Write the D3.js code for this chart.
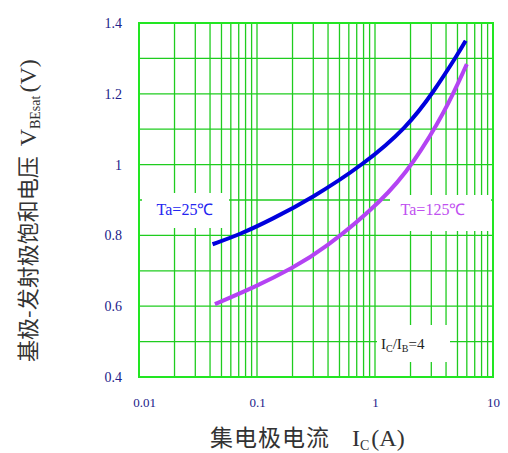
<!DOCTYPE html>
<html>
<head>
<meta charset="utf-8">
<script src="https://cdn.jsdelivr.net/npm/d3@7"></script>
<style>
  body { margin: 0; background: #fff; }
  svg { display: block; }
</style>
</head>
<body>
<div id="chart"></div>
<script>
// readings: [Ic (A), VBEsat (V)]
var curve25 = [[0.042,0.775],[0.072,0.803],[0.133,0.845],[0.29,0.905],
               [0.8,1.0],[1.86,1.105],[3.12,1.204],[5.08,1.314],[5.87,1.35]];
var curve125 = [[0.044,0.606],[0.1,0.657],[0.197,0.707],[0.365,0.759],
                [1.18,0.9],[2.11,1.003],[3.92,1.149],[6.0,1.284]];
var xTicks = [0.01, 0.1, 1, 10];
var xTickLabels = ['0.01', '0.1', '1', '10'];
var yTicks = [0.4, 0.6, 0.8, 1, 1.2, 1.4];
var yTickLabels = ['0.4', '0.6', '0.8', '1', '1.2', '1.4'];

var width = 508, height = 453;
var plotLeft = 139, plotRight = 493, plotTop = 23, plotBottom = 377;

var x = d3.scaleLog().domain([0.01, 10]).range([plotLeft, plotRight]);
var y = d3.scaleLinear().domain([0.4, 1.4]).range([plotBottom, plotTop]);

var svg = d3.select('#chart').append('svg')
  .attr('width', width)
  .attr('height', height);

// grid
var xMinor = [];
[0.01, 0.1, 1].forEach(function(dec) {
  for (var k = 1; k < 10; k++) xMinor.push(dec * k);
});
xMinor.push(10);
var yLines = d3.range(0, 11).map(function(i) { return 0.4 + i * 0.1; });

var grid = svg.append('g').attr('stroke', '#1fcc1f').attr('stroke-width', 1.3);
grid.selectAll('.vline').data(xMinor).enter().append('line')
  .attr('x1', function(d) { return x(d); })
  .attr('x2', function(d) { return x(d); })
  .attr('y1', plotTop).attr('y2', plotBottom);
grid.selectAll('.hline').data(yLines).enter().append('line')
  .attr('x1', plotLeft).attr('x2', plotRight)
  .attr('y1', function(d) { return y(d); })
  .attr('y2', function(d) { return y(d); });

// white boxes behind the labels
var boxes = [
  { x: 142, y: 193, w: 87, h: 35 },
  { x: 390, y: 195, w: 101, h: 36 },
  { x: 377, y: 325, w: 73, h: 37 }
];
svg.append('g').selectAll('rect').data(boxes).enter().append('rect')
  .attr('x', function(d) { return d.x; })
  .attr('y', function(d) { return d.y; })
  .attr('width', function(d) { return d.w; })
  .attr('height', function(d) { return d.h; })
  .attr('fill', '#fff');

// frame
svg.append('rect')
  .attr('x', plotLeft).attr('y', plotTop)
  .attr('width', plotRight - plotLeft).attr('height', plotBottom - plotTop)
  .attr('fill', 'none')
  .attr('stroke', '#22e622')
  .attr('stroke-width', 2);

// axes (tick labels only)
var serif = "'Liberation Serif', 'Times New Roman', serif";
var xAxis = svg.append('g')
  .attr('transform', 'translate(0,' + (plotBottom + 18) + ')')
  .call(d3.axisBottom(x).tickValues(xTicks).tickSize(0)
    .tickFormat(function(d, i) { return xTickLabels[i]; }));
xAxis.select('.domain').remove();
xAxis.selectAll('text')
  .style('font-family', serif)
  .style('font-size', '13px')
  .attr('fill', '#22228a');
xAxis.selectAll('.tick').filter(function(d) { return d === 0.01; })
  .select('text').attr('dx', 5);

var yAxis = svg.append('g')
  .attr('transform', 'translate(' + (plotLeft - 14) + ',0)')
  .call(d3.axisLeft(y).tickValues(yTicks).tickSize(0)
    .tickFormat(function(d, i) { return yTickLabels[i]; }));
yAxis.select('.domain').remove();
yAxis.selectAll('text')
  .style('font-family', serif)
  .style('font-size', '14px')
  .attr('fill', '#22228a');

// curves
var line = d3.line()
  .x(function(d) { return x(d[0]); })
  .y(function(d) { return y(d[1]); })
  .curve(d3.curveBasis);

svg.append('path').datum(curve125)
  .attr('d', line)
  .attr('fill', 'none')
  .attr('stroke', '#b443f3')
  .attr('stroke-width', 4);
svg.append('path').datum(curve25)
  .attr('d', line)
  .attr('fill', 'none')
  .attr('stroke', '#0000dd')
  .attr('stroke-width', 4);

// labels
svg.append('text')
  .attr('x', 185).attr('y', 215)
  .attr('text-anchor', 'middle')
  .style('font-family', serif).style('font-size', '16px')
  .attr('fill', '#2525f0')
  .text('Ta=25\u2103');
svg.append('text')
  .attr('x', 433).attr('y', 215)
  .attr('text-anchor', 'middle')
  .style('font-family', serif).style('font-size', '16px')
  .attr('fill', '#c050f0')
  .text('Ta=125\u2103');

var ratio = svg.append('text')
  .attr('x', 381).attr('y', 349)
  .style('font-family', serif).style('font-size', '15px')
  .attr('fill', '#222');
ratio.append('tspan').text('I');
ratio.append('tspan').style('font-size', '10px').attr('dy', 3).text('C');
ratio.append('tspan').attr('dy', -3).text('/I');
ratio.append('tspan').style('font-size', '10px').attr('dy', 3).text('B');
ratio.append('tspan').attr('dy', -3).text('=4');

// axis titles
var cjk = "'Noto Sans CJK SC', sans-serif";
var xTitle = svg.append('text')
  .attr('x', 210).attr('y', 446)
  .attr('fill', '#333');
xTitle.append('tspan').style('font-family', cjk).style('font-size', '23px')
  .attr('letter-spacing', 1).text('集电极电流');
xTitle.append('tspan').style('font-family', serif).style('font-size', '24px')
  .attr('dx', 22).text('I');
xTitle.append('tspan').style('font-family', serif).style('font-size', '14px')
  .attr('dy', 4).text('C');
xTitle.append('tspan').style('font-family', serif).style('font-size', '24px')
  .attr('dy', -4).attr('dx', 2).text('(A)');

var yTitle = svg.append('text')
  .attr('transform', 'translate(36,362) rotate(-90)')
  .attr('fill', '#333');
yTitle.append('tspan').style('font-family', cjk).style('font-size', '22px')
  .text('基极-发射极饱和电压');
yTitle.append('tspan').style('font-family', serif).style('font-size', '24px')
  .attr('dx', 10).text('V');
yTitle.append('tspan').style('font-family', serif).style('font-size', '14px')
  .attr('dy', 4).text('BEsat');
yTitle.append('tspan').style('font-family', serif).style('font-size', '24px')
  .attr('dy', -4).attr('dx', 3).text('(V)');
</script>
</body>
</html>
